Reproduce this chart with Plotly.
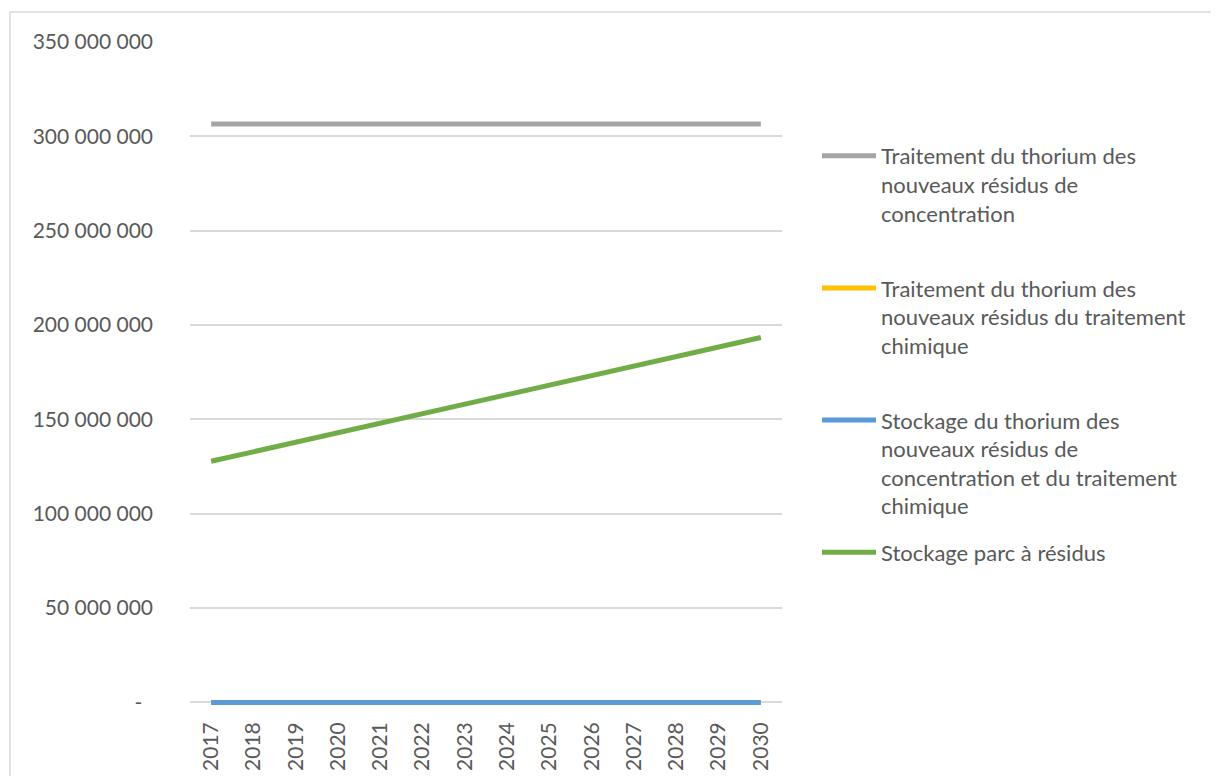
import plotly.graph_objects as go

years = [str(y) for y in range(2017, 2031)]

# values (EUR)
traitement_concentration = [306_500_000] * 14
traitement_chimique = [0] * 14
stockage_thorium = [0] * 14
stockage_parc = [127_800_000, 132_850_000, 137_900_000, 142_900_000, 148_000_000,
                 153_000_000, 158_100_000, 163_100_000, 168_200_000, 173_200_000,
                 178_300_000, 183_300_000, 188_400_000, 193_400_000]

names = [
    "Traitement du thorium des<br>nouveaux résidus de<br>concentration",
    "Traitement du thorium des<br>nouveaux résidus du traitement<br>chimique",
    "Stockage du thorium des<br>nouveaux résidus de<br>concentration et du traitement<br>chimique",
    "Stockage parc à résidus",
]
series = [traitement_concentration, traitement_chimique, stockage_thorium, stockage_parc]
colors = ["#A5A5A5", "#FFC000", "#5B9BD5", "#70AD47"]
legends = ["legend", "legend2", "legend3", "legend4"]

y_ticks = [0, 50e6, 100e6, 150e6, 200e6, 250e6, 300e6, 350e6]
y_ticktext = ["-  ", "50 000 000", "100 000 000", "150 000 000", "200 000 000",
              "250 000 000", "300 000 000", "350 000 000"]

font = dict(family="Lato", size=21, color="#595959")

fig = go.Figure()
for name, vals, color, leg in zip(names, series, colors, legends):
    fig.add_trace(go.Scatter(
        x=years, y=vals, name=name, mode="lines",
        line=dict(color=color, width=5), legend=leg,
    ))

# the page body adds an 8px margin, so the figure is drawn 8px smaller
OFF = 8
W, H = 1219 - OFF, 776 - OFF
Y_MIN = -4e6  # a little room below zero so the zero lines are not clipped
px_per_unit = 660 / 350e6
pw = 592
ph = px_per_unit * (350e6 - Y_MIN)
zero_px = 702 + (-Y_MIN) * px_per_unit  # page y of the bottom of the plot
left, top = 190 - OFF, 42 - OFF
right = W - left - pw
bottom = H - top - ph


def px_x(x):
    # page pixel -> paper coordinate
    return (x - 190) / pw


def px_y(y):
    return (zero_px - y) / ph


leg_style = dict(x=px_x(817), xanchor="left", yanchor="top", valign="top",
                 font=dict(font, size=22), bgcolor="rgba(0,0,0,0)", itemwidth=54)

fig.update_layout(
    width=W, height=H,
    margin=dict(l=left, r=right, t=top, b=bottom, autoexpand=False),
    plot_bgcolor="white", paper_bgcolor="white",
    font=font,
    showlegend=True,
    legend=dict(leg_style, y=px_y(135)),
    legend2=dict(leg_style, y=px_y(267)),
    legend3=dict(leg_style, y=px_y(399)),
    legend4=dict(leg_style, y=px_y(531)),
    xaxis=dict(
        type="category", tickangle=-90, showgrid=False, showline=False,
        ticks="", ticklabelstandoff=7, range=[-0.5, 13.5], automargin=False,
    ),
    yaxis=dict(
        range=[Y_MIN, 350e6], tickvals=y_ticks, ticktext=y_ticktext,
        showgrid=True, gridcolor="#D9D9D9", gridwidth=1.5, zeroline=False,
        showline=False, ticks="", ticklabelstandoff=36, automargin=False,
    ),
    shapes=[dict(
        type="rect", xref="paper", yref="paper",
        x0=px_x(10), x1=px_x(1218), y0=px_y(790), y1=px_y(12),
        line=dict(color="#D9D9D9", width=1.5), layer="below",
    )],
)

fig.write_html("out.html")
